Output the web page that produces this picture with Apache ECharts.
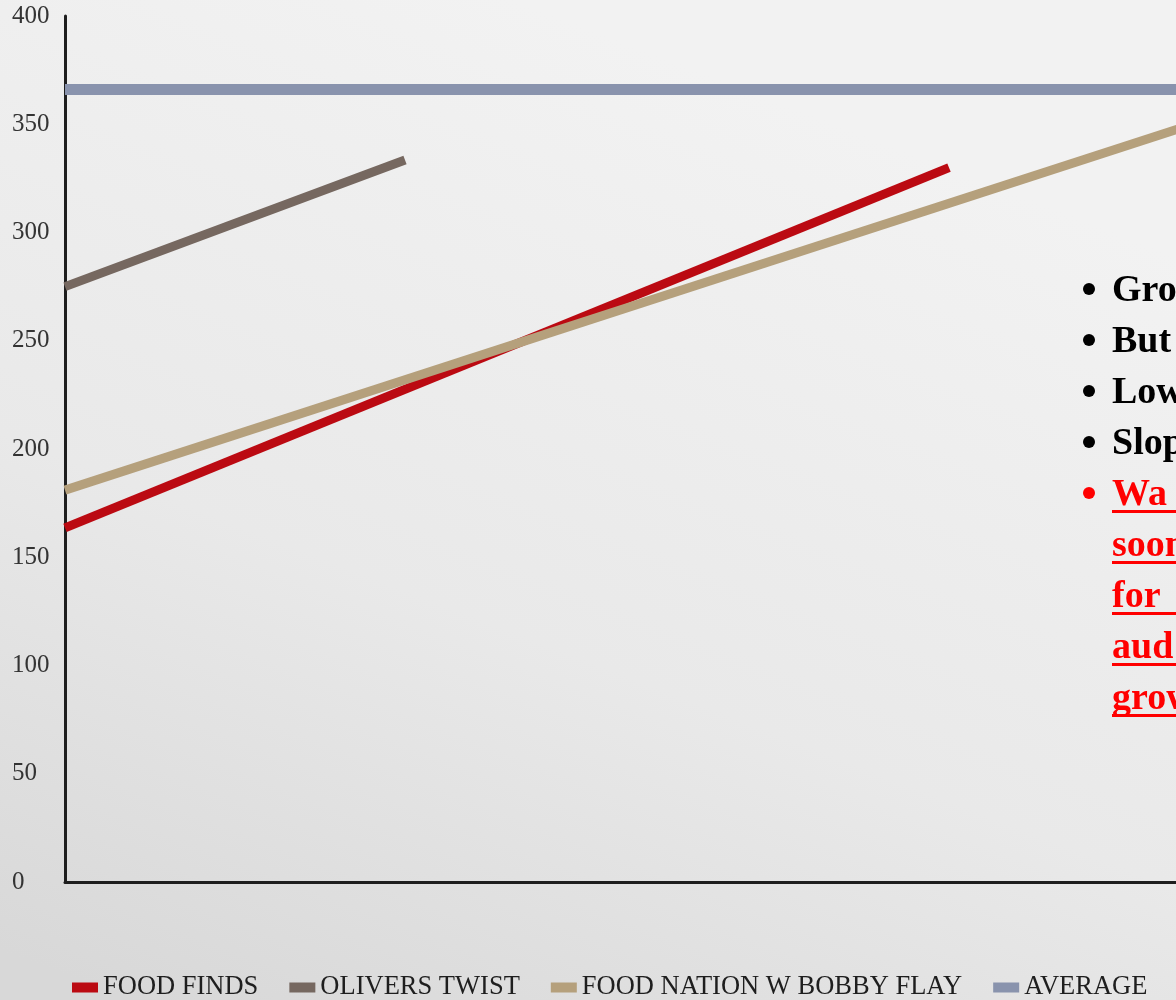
<!DOCTYPE html>
<html>
<head>
<meta charset="utf-8">
<title>Ratings trend</title>
<script src="https://cdn.jsdelivr.net/npm/echarts@6/dist/echarts.min.js"></script>
<style>
  html, body { margin: 0; padding: 0; background: #e6e6e6; overflow: hidden; }
  /* the plot runs past the right edge of the window */
  #chart { width: 1289px; height: 1000px; }
</style>
</head>
<body>
<div id="chart"></div>
<script>
// Series names, in legend order
const seriesNames = ['FOOD FINDS', 'OLIVERS TWIST', 'FOOD NATION W BOBBY FLAY', 'AVERAGE'];

// Episode positions (x) and values (y) at the start and end of each trend line
const foodFindsEpisodes = [0, 13];
const foodFindsValues = [163.6, 330];
const oliversTwistEpisodes = [0, 5];
const oliversTwistValues = [275, 333.5];
const foodNationEpisodes = [0, 18];
const foodNationValues = [181, 364.4];
const averageEpisodes = [0, 18];
const averageValues = [366, 366];

// Value axis ticks
const yTicks = [0, 50, 100, 150, 200, 250, 300, 350, 400];

// Side notes (bold bullets, the last one red and underlined)
const noteLines = ['Gro', 'But', 'Low', 'Slop'];
const redNoteLines = ['Wa', 'soon', 'for', 'aud', 'grow'];

const colors = ['#bb0a12', '#766860', '#b5a07c', '#8993ad'];
const widths = [9, 9, 9, 11];

function pairs(xs, ys) {
  return xs.map((x, i) => [x, ys[i]]);
}

const seriesData = [
  pairs(foodFindsEpisodes, foodFindsValues),
  pairs(oliversTwistEpisodes, oliversTwistValues),
  pairs(foodNationEpisodes, foodNationValues),
  pairs(averageEpisodes, averageValues)
];

const serif = '"Liberation Serif", "Times New Roman", serif';

// Side notes as graphic text
const noteX = 1112, bulletX = 1089, firstBaseline = 302, pitch = 51;
const graphics = [];
const allNotes = noteLines.map(t => ({ t, red: false })).concat(redNoteLines.map(t => ({ t, red: true })));
allNotes.forEach((n, i) => {
  const base = firstBaseline + pitch * i;
  const col = n.red ? '#ff0000' : '#000000';
  if (!n.red || i === noteLines.length) {
    graphics.push({
      type: 'circle', z: 10,
      shape: { cx: bulletX, cy: base - 13, r: 6 },
      style: { fill: col }
    });
  }
  graphics.push({
    type: 'text', x: noteX, y: base - 30, z: 10,
    style: { text: n.t, fill: col, font: 'bold 38px ' + serif }
  });
  if (n.red) {
    graphics.push({
      type: 'rect', z: 10,
      shape: { x: noteX, y: base + 4, width: 80, height: 3 },
      style: { fill: '#ff0000' }
    });
  }
});

const chart = echarts.init(document.getElementById('chart'), null, { renderer: 'canvas' });
chart.setOption({
  animation: false,
  backgroundColor: new echarts.graphic.LinearGradient(0.1, 1, 0.4, 0, [
    { offset: 0, color: '#d8d8d8' },
    { offset: 0.45, color: '#e9e9e9' },
    { offset: 1, color: '#f2f2f2' }
  ]),
  grid: { left: 65, top: 16, bottom: 118, right: 0, containLabel: false },
  xAxis: {
    type: 'value', min: 0, max: 18,
    axisLine: { show: true, onZero: false, lineStyle: { color: '#1e1e1e', width: 3 } },
    axisTick: { show: false },
    axisLabel: { show: false },
    splitLine: { show: false }
  },
  yAxis: {
    type: 'value', min: yTicks[0], max: yTicks[yTicks.length - 1], interval: yTicks[1] - yTicks[0],
    axisLine: { show: true, lineStyle: { color: '#1e1e1e', width: 3 } },
    axisTick: { show: false },
    splitLine: { show: false },
    axisLabel: {
      align: 'left', margin: 53, padding: [6, 0, 0, 0],
      color: '#333333', fontFamily: serif, fontSize: 25
    }
  },
  legend: {
    left: 72, top: 974, padding: 0,
    icon: 'rect', itemWidth: 26, itemHeight: 10, itemGap: 31,
    textStyle: { fontFamily: serif, fontSize: 26.5, color: '#1e1e1e' },
    data: seriesNames
  },
  series: seriesNames.map((name, i) => ({
    name, type: 'line',
    data: seriesData[i],
    showSymbol: false, symbol: 'none',
    color: colors[i],
    itemStyle: { color: colors[i] },
    lineStyle: { color: colors[i], width: widths[i], cap: 'butt' },
    emphasis: { disabled: true },
    z: 2 + i
  })),
  graphic: graphics
});
</script>
</body>
</html>
